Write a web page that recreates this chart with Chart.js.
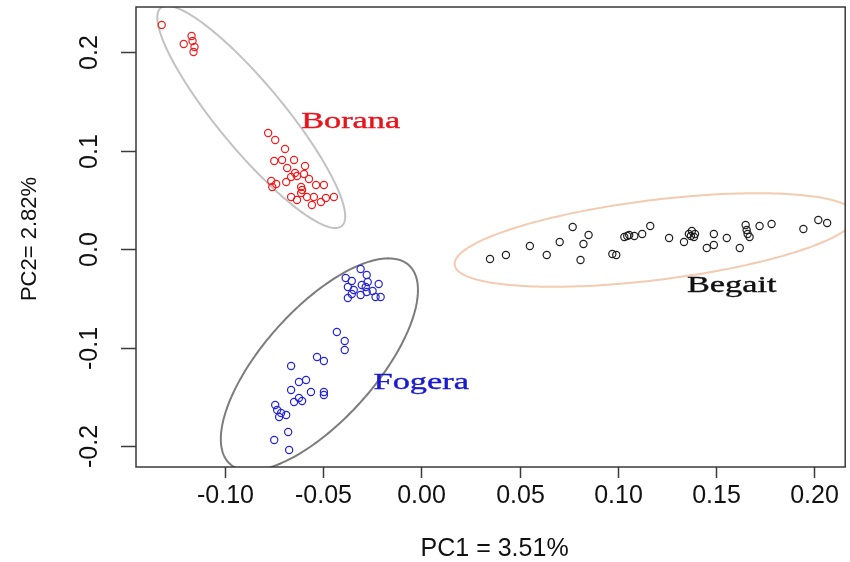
<!DOCTYPE html>
<html>
<head>
<meta charset="utf-8">
<script src="https://cdn.jsdelivr.net/npm/chart.js@4.4.1/dist/chart.umd.min.js"></script>
<style>
html,body{margin:0;padding:0;background:#fff;}
#wrap{width:850px;height:562px;position:relative;}
</style>
</head>
<body>
<div id="wrap"><canvas id="c"></canvas></div>
<script>
// ---- data (PC1, PC2 scores) ----
const boranaX = [-0.1323,-0.1211,-0.1171,-0.1166,-0.1156,-0.1161,-0.0781,-0.0745,-0.0695,-0.0750,-0.0710,-0.0649,-0.0684,-0.0593,-0.0765,-0.0740,-0.0689,-0.0664,-0.0634,-0.0598,-0.0573,-0.0613,-0.0608,-0.0537,-0.0497,-0.0664,-0.0634,-0.0583,-0.0548,-0.0558,-0.0512,-0.0487,-0.0446,-0.0613,-0.0760,-0.0644];
const boranaY = [0.2280,0.2086,0.2168,0.2117,0.2056,0.2005,0.1182,0.1111,0.1019,0.0897,0.0908,0.0908,0.0826,0.0847,0.0694,0.0664,0.0684,0.0735,0.0745,0.0765,0.0714,0.0633,0.0603,0.0653,0.0653,0.0532,0.0501,0.0532,0.0532,0.0450,0.0481,0.0521,0.0532,0.0572,0.0633,0.0775];
const fogeraX = [-0.0310,-0.0279,-0.0386,-0.0355,-0.0274,-0.0304,-0.0218,-0.0375,-0.0345,-0.0284,-0.0279,-0.0249,-0.0355,-0.0234,-0.0208,-0.0375,-0.0310,-0.0431,-0.0391,-0.0391,-0.0532,-0.0497,-0.0664,-0.0624,-0.0588,-0.0664,-0.0563,-0.0497,-0.0497,-0.0649,-0.0608,-0.0624,-0.0745,-0.0735,-0.0715,-0.0689,-0.0725,-0.0679,-0.0750,-0.0674];
const fogeraY = [-0.0200,-0.0261,-0.0292,-0.0322,-0.0332,-0.0363,-0.0353,-0.0383,-0.0414,-0.0383,-0.0434,-0.0424,-0.0454,-0.0485,-0.0485,-0.0495,-0.0464,-0.0840,-0.0932,-0.1023,-0.1095,-0.1135,-0.1186,-0.1349,-0.1328,-0.1430,-0.1450,-0.1450,-0.1481,-0.1552,-0.1542,-0.1511,-0.1582,-0.1633,-0.1664,-0.1684,-0.1704,-0.1857,-0.1938,-0.2040];
const begaitX = [0.0349,0.0430,0.0552,0.0638,0.0704,0.0770,0.0851,0.0825,0.0810,0.0972,0.0992,0.1033,0.1048,0.1058,0.1084,0.1124,0.1165,0.1261,0.1337,0.1362,0.1377,0.1372,0.1388,0.1393,0.1489,0.1555,0.1453,0.1489,0.1621,0.1651,0.1656,0.1661,0.1671,0.1722,0.1783,0.1945,0.2021,0.2066];
const begaitY = [-0.0099,-0.0058,0.0034,-0.0058,0.0074,0.0227,0.0145,0.0054,-0.0109,-0.0048,-0.0058,0.0125,0.0135,0.0145,0.0135,0.0155,0.0237,0.0115,0.0074,0.0155,0.0186,0.0135,0.0125,0.0155,0.0155,0.0115,0.0013,0.0044,0.0013,0.0247,0.0196,0.0155,0.0125,0.0237,0.0257,0.0206,0.0298,0.0267];

// cluster names and label anchors (data units)
const groupNames = ["Borana","Fogera","Begait"];
const labelX = [-0.0613,-0.0244,0.1352];
const labelY = [0.1232,-0.1420,-0.0434];

// confidence ellipses: centre and semi-axis vectors (data units)
const ellCX = [-0.0867,-0.0520,0.1190];
const ellCY = [0.1345,-0.1171,0.00945];
const ellAX = [0.0461,0.0456,0.1021];
const ellAY = [-0.1108,0.1009,0.0252];
const ellBX = [0.0128,0.0210,0.00248];
const ellBY = [0.0215,-0.0382,-0.0403];

// axes
const xLimits = [-0.1454,0.2158];
const yLimits = [-0.2212,0.2462];
const xTicks = [-0.10,-0.05,0.00,0.05,0.10,0.15,0.20];
const xTickLabels = ["-0.10","-0.05","0.00","0.05","0.10","0.15","0.20"];
const yTicks = [-0.2,-0.1,0.0,0.1,0.2];
const yTickLabels = ["-0.2","-0.1","0.0","0.1","0.2"];
const xTitle = "PC1 = 3.51%";
const yTitle = "PC2= 2.82%";

// ---- styling ----
const pointColors = ["#f21c1c","#2424d6","#1e1e1e"];
const ellColors = ["#c2c2c2","#7c7c7c","#f3cbb0"];
const labelColors = ["#e8141c","#1a1ad0","#111111"];

function pts(xs, ys){ return xs.map((x,i)=>({x:x,y:ys[i]})); }

const ellipsePlugin = {
  id:'ellipses',
  beforeDatasetsDraw(chart){
    const {ctx, chartArea:a, scales:{x,y}} = chart;
    ctx.save();
    ctx.beginPath(); ctx.rect(a.left,a.top,a.right-a.left,a.bottom-a.top); ctx.clip();
    for(let k=0;k<ellCX.length;k++){
      ctx.beginPath();
      for(let i=0;i<=240;i++){
        const t = i/240*Math.PI*2;
        const vx = ellCX[k] + ellAX[k]*Math.cos(t) + ellBX[k]*Math.sin(t);
        const vy = ellCY[k] + ellAY[k]*Math.cos(t) + ellBY[k]*Math.sin(t);
        const px = x.getPixelForValue(vx), py = y.getPixelForValue(vy);
        if(i===0) ctx.moveTo(px,py); else ctx.lineTo(px,py);
      }
      ctx.closePath();
      ctx.strokeStyle = ellColors[k];
      ctx.lineWidth = 2;
      ctx.stroke();
    }
    ctx.restore();
  }
};

const axesPlugin = {
  id:'rAxes',
  afterDatasetsDraw(chart){
    const {ctx, chartArea:a, scales:{x,y}} = chart;
    ctx.save();
    // cluster labels
    for(let k=0;k<groupNames.length;k++){
      ctx.save();
      ctx.translate(x.getPixelForValue(labelX[k]), y.getPixelForValue(labelY[k]));
      ctx.scale(1.43,1);
      ctx.font = '24px "Liberation Serif", "Times New Roman", serif';
      ctx.fillStyle = labelColors[k];
      ctx.strokeStyle = labelColors[k];
      ctx.lineWidth = 0.4;
      ctx.textAlign='left'; ctx.textBaseline='alphabetic';
      ctx.fillText(groupNames[k],0,0);
      ctx.strokeText(groupNames[k],0,0);
      ctx.restore();
    }
    // frame
    ctx.strokeStyle = '#3a3a3a';
    ctx.lineWidth = 1.5;
    ctx.strokeRect(a.left, a.top, a.right-a.left, a.bottom-a.top);
    // x ticks
    ctx.fillStyle = '#111';
    ctx.font = '25px "Liberation Sans", Arial, sans-serif';
    ctx.textAlign='center'; ctx.textBaseline='middle';
    xTicks.forEach((v,i)=>{
      const px = Math.round(x.getPixelForValue(v))+0.5;
      ctx.beginPath(); ctx.moveTo(px,a.bottom); ctx.lineTo(px,a.bottom+11); ctx.stroke();
      ctx.fillText(xTickLabels[i], px, a.bottom+29);
    });
    // y ticks
    yTicks.forEach((v,i)=>{
      const py = Math.round(y.getPixelForValue(v))+0.5;
      ctx.beginPath(); ctx.moveTo(a.left,py); ctx.lineTo(a.left-15,py); ctx.stroke();
      ctx.save();
      ctx.translate(90, py);
      ctx.rotate(-Math.PI/2);
      ctx.fillText(yTickLabels[i],0,0);
      ctx.restore();
    });
    // titles
    ctx.font = '25px "Liberation Sans", Arial, sans-serif';
    ctx.fillText(xTitle, (a.left+a.right)/2+4, 549);
    ctx.save();
    ctx.translate(30,(a.top+a.bottom)/2+2);
    ctx.rotate(-Math.PI/2);
    ctx.font = '22px "Liberation Sans", Arial, sans-serif';
    ctx.fillText(yTitle,0,0);
    ctx.restore();
    ctx.restore();
  }
};

const mk = (xs,ys,k)=>({
  data: pts(xs,ys),
  borderColor: pointColors[k],
  backgroundColor: 'rgba(0,0,0,0)',
  pointRadius: 3.6,
  pointHoverRadius: 3.6,
  pointBorderWidth: 1.2,
  showLine:false
});

new Chart(document.getElementById('c'), {
  type:'scatter',
  data:{datasets:[mk(boranaX,boranaY,0), mk(fogeraX,fogeraY,1), mk(begaitX,begaitY,2)]},
  options:{
    responsive:true, maintainAspectRatio:false, animation:false, events:[],
    layout:{padding:{left:136,right:1,top:7,bottom:95}},
    plugins:{legend:{display:false}, tooltip:{enabled:false}},
    scales:{
      x:{type:'linear', display:false, min:xLimits[0], max:xLimits[1]},
      y:{type:'linear', display:false, min:yLimits[0], max:yLimits[1]}
    }
  },
  plugins:[ellipsePlugin, axesPlugin]
});
</script>
</body>
</html>
